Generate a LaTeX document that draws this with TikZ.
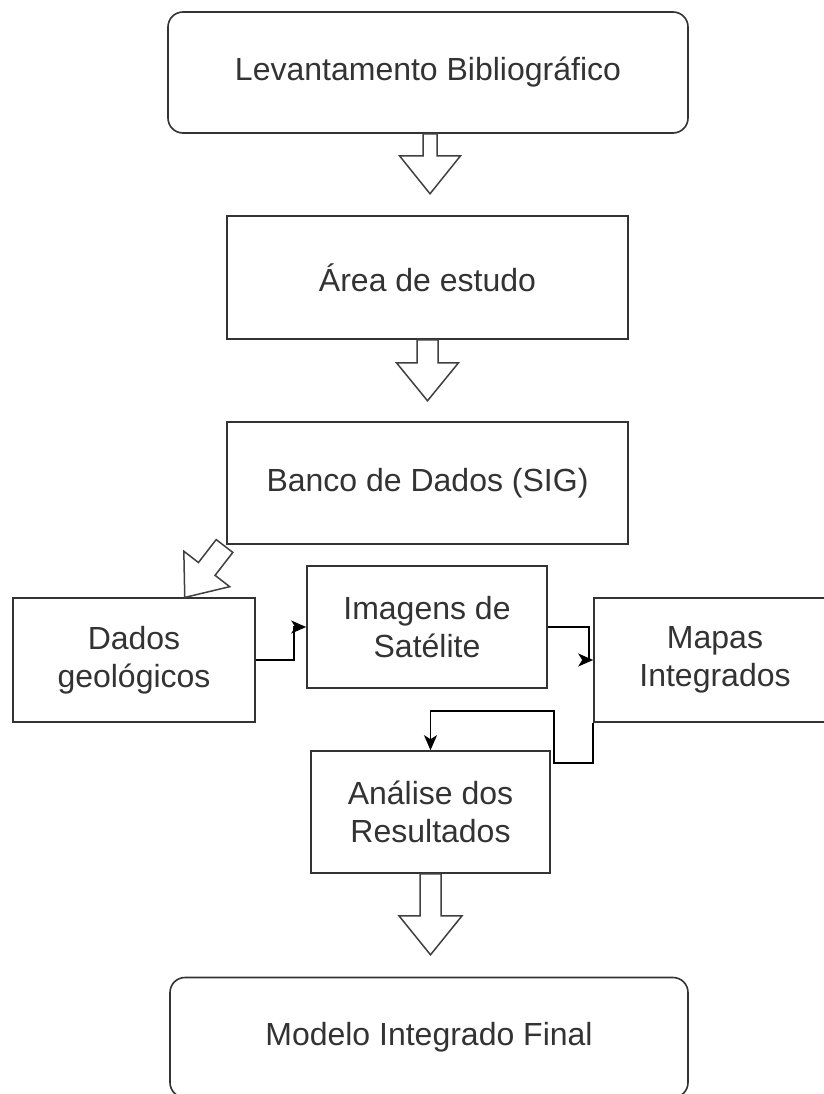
\documentclass[tikz,border=0pt]{standalone}
\usepackage{fontspec}
\setmainfont{Liberation Sans}
\usetikzlibrary{arrows.meta,calc}

% hollow block arrow pointing along +x of a rotated frame
% #1 start point, #2 angle, #3 shaft length, #4 shaft half-width, #5 head length, #6 head half-width
\newcommand\hollowarrow[6]{%
  \begin{scope}[shift={#1}, rotate=#2]
    \draw[blockarrow] (0,-#4) -- (#3,-#4) -- (#3,-#6) -- ({#3+#5},0)
      -- (#3,#6) -- (#3,#4) -- (0,#4) -- cycle;
  \end{scope}}

\tikzset{
  box/.style={draw=black!80, line width=1.6pt, fill=white, rectangle,
    text=black!80, font=\fontsize{32}{38.4}\selectfont, align=center,
    inner sep=0pt},
  roundbox/.style={box, rounded corners=15pt},
  blockarrow/.style={draw=black!75, line width=1.5pt, fill=white, line join=miter},
  link/.style={draw=black, line width=1.5pt,
    -{Stealth[length=15pt, width=13pt, inset=4pt]}},
}

\begin{document}
\begin{tikzpicture}[x=1pt, y=-1pt]
  \useasboundingbox[fill=white] (0,0) rectangle (823,1094);

  % main column
  \node[roundbox, minimum width=520pt, minimum height=121pt] (lev) at (428,72.5)
    {Levantamento Bibliográfico};
  \node[box, minimum width=401pt, minimum height=123pt] (area) at (427.5,277.5)
    {Área de estudo};
  \node[box, minimum width=401pt, minimum height=122pt] (banco) at (427.5,483)
    {Banco de Dados (SIG)};

  % middle row
  \node[box, minimum width=242pt, minimum height=124pt] (dados) at (134,660)
    {Dados\\geológicos};
  \node[box, minimum width=240pt, minimum height=122pt] (imagens) at (427,627)
    {Imagens de\\Satélite};
  \node[box, minimum width=242pt, minimum height=124pt] (mapas) at (715,660)
    {Mapas\\Integrados};

  \node[box, minimum width=239pt, minimum height=122pt] (analise) at (430.5,812)
    {Análise dos\\Resultados};
  \node[roundbox, minimum width=518pt, minimum height=120pt] (final) at (429,1037.5)
    {Modelo Integrado Final};

  % hollow block arrows between stages
  \hollowarrow{($(lev.south)+(2,0)$)}{-90}{22}{7}{38}{30.5}
  \hollowarrow{(area.south)}{-90}{23}{10.5}{38}{31}
  \hollowarrow{(224.5,546)}{-127.7}{29}{10.5}{36}{29}
  \hollowarrow{(analise.south)}{-90}{42}{10.5}{39}{31.5}

  % orthogonal connectors
  \draw[link] (dados.east) -- ++(38,0) |- (imagens.west);
  \draw[link] (imagens.east) -- ++(41,0) |- (mapas.west);
  \draw[link] (mapas.south west) -- ++(0,40) -- ++(-39,0) -- ++(0,-52) -| (analise.north);
\end{tikzpicture}
\end{document}
